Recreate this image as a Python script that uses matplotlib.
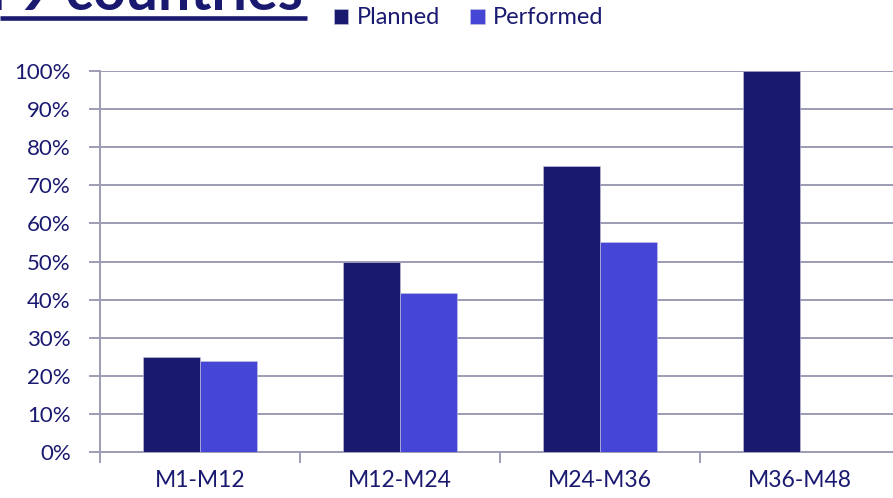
import matplotlib.pyplot as plt
import matplotlib.ticker as ticker
import numpy as np

periods = ["M1-M12", "M12-M24", "M24-M36", "M36-M48"]
planned = [25, 50, 75, 100]
performed = [24, 41.7, 55, 0]

NAVY = "#191970"
BLUE = "#4545d6"
GRID = "#9c9cb4"

plt.rcParams["font.family"] = ["Lato", "DejaVu Sans"]

fig = plt.figure(figsize=(8.93, 4.98), dpi=100)
ax = fig.add_axes([100 / 893, 1 - 452 / 498, 800 / 893, (452 - 71) / 498])

x = np.arange(len(periods))
w = 0.285
ax.bar(x - w / 2, planned, w, color=NAVY, edgecolor="#c8c8dc", linewidth=0.4,
       label="Planned", zorder=3)
ax.bar(x + w / 2, performed, w, color=BLUE, edgecolor="#c8c8dc", linewidth=0.4,
       label="Performed", zorder=3)

ax.set_xlim(-0.5, len(periods) - 0.5)
ax.set_ylim(0, 100)
ax.yaxis.set_major_locator(ticker.MultipleLocator(10))
ax.yaxis.set_major_formatter(ticker.FuncFormatter(lambda v, p: f"{v:.0f}%"))
ax.grid(axis="y", color=GRID, linewidth=1.4, zorder=0)

# category labels centred, ticks on the boundaries
ax.set_xticks(x)
ax.set_xticklabels(periods)
ax.set_xticks(np.arange(len(periods) + 1) - 0.5, minor=True)
ax.tick_params(axis="x", which="major", length=0, pad=13, labelsize=16.5, labelcolor=NAVY)
ax.tick_params(axis="x", which="minor", length=8, width=1.4, color=GRID)
ax.tick_params(axis="y", length=8, width=1.4, color=GRID, labelsize=16, labelcolor=NAVY, pad=13)

for s in ["top", "right"]:
    ax.spines[s].set_visible(False)
for s in ["left", "bottom"]:
    ax.spines[s].set_color(GRID)
    ax.spines[s].set_linewidth(1.4)

# page title, partly outside the frame
fig.text(303 / 893, 1 - 10 / 498, "Progress in 9 countries", ha="right", va="baseline",
         fontsize=41, fontweight="bold", color=NAVY)
fig.add_artist(plt.Line2D([0, 307 / 893], [1 - 18.5 / 498] * 2, color=NAVY, linewidth=3.3,
                          solid_capstyle="butt", transform=fig.transFigure))

fig.legend(loc="center left", bbox_to_anchor=(334 / 893, 1 - 18 / 498), ncol=2, frameon=False,
           fontsize=17, labelcolor=NAVY, handlelength=0.6, handleheight=0.6,
           handletextpad=0.35, columnspacing=1.3, borderpad=0, borderaxespad=0)

fig.savefig("out.png", dpi=100)
